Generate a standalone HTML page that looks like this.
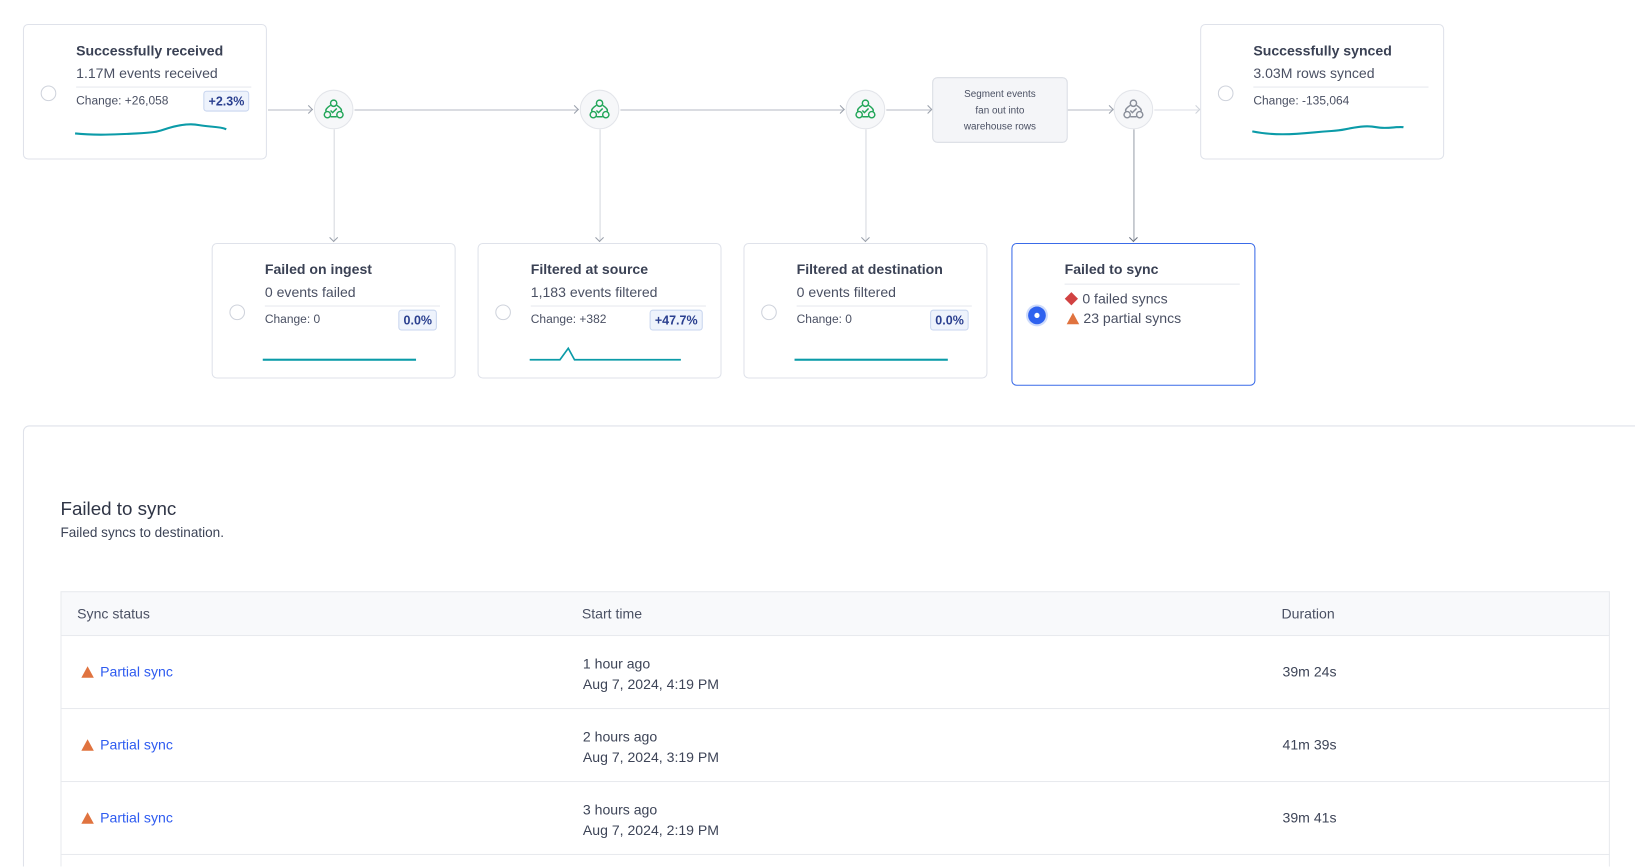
<!DOCTYPE html>
<html><head><meta charset="utf-8"><style>
*{box-sizing:border-box;margin:0;padding:0}
html,body{width:1635px;height:867px;overflow:hidden;background:#fff;font-family:"Liberation Sans",sans-serif;color:#3d4457}
#w{position:absolute;left:0;top:0;width:1568px;height:831px;overflow:hidden;transform:scale(1.0427);transform-origin:0 0}
.card{position:absolute;background:#fff;border:1px solid #dfe2ea;border-radius:5px;width:234px;height:130px}
.radio{position:absolute;width:15px;height:15px;border:1px solid #cfd3dc;border-radius:50%}
.t{position:absolute;font-size:13.5px;font-weight:bold;color:#3a4154;white-space:nowrap}
.s{position:absolute;font-size:13.5px;color:#4a5063;white-space:nowrap}
.div{position:absolute;height:1px;background:#e6e8ee}
.c{position:absolute;font-size:11.5px;color:#4a5063;white-space:nowrap}
.b{position:absolute;height:20px;border:1px solid #c9d6ef;background:#eef3fc;border-radius:3px;font-size:12px;font-weight:bold;color:#2a3f8f;padding:3px 4px;line-height:13px}
.node{position:absolute;width:38px;height:38px;border-radius:50%;background:#f6f7f9;border:1px solid #e3e5ea}
.hl{position:absolute;height:1px;background:#b8bcc6}
.vl{position:absolute;width:1px;background:#d6d9df}
.ah{position:absolute;width:6px;height:6px;border-top:1px solid #9aa0ab;border-right:1px solid #9aa0ab;transform:rotate(45deg)}
.av{position:absolute;width:6px;height:6px;border-bottom:1px solid #9aa0ab;border-right:1px solid #9aa0ab;transform:rotate(45deg)}
.row{position:absolute;left:58px;width:1486px;border-bottom:1px solid #e8eaee;height:70px}
.tri{display:inline-block;width:0;height:0;border-left:6px solid transparent;border-right:6px solid transparent;border-bottom:11px solid #e0733f;vertical-align:-1px;margin-right:6px}
.lk{position:absolute;left:19px;top:27px;font-size:13.5px;color:#2e5bf0}
.st{position:absolute;left:500px;top:17px;font-size:13.5px;line-height:20px;color:#3d4457}
.du{position:absolute;left:1171px;top:27px;font-size:13.5px;color:#3d4457}
</style></head><body><div id="w">
<svg width="1568" height="400" style="position:absolute;left:0;top:0">
<defs><g id="ic"><circle cx="0" cy="-6" r="3" fill="none" stroke-width="1.4"/><circle cx="-6" cy="5" r="3" fill="none" stroke-width="1.4"/><circle cx="6" cy="5" r="3" fill="none" stroke-width="1.4"/><path d="M-3,-4 Q-9,0 -7,2 M3,-4 Q9,0 7,2 M-3,7 L3,7 M-3,1 L-1,3 L3,-1" fill="none" stroke-width="1.4"/></g></defs>
</svg>
<div class="hl" style="left:257px;top:105px;width:42px"></div><div class="ah" style="left:293px;top:102px"></div>
<div class="hl" style="left:340px;top:105px;width:214px"></div><div class="ah" style="left:548px;top:102px"></div>
<div class="hl" style="left:595px;top:105px;width:214px"></div><div class="ah" style="left:803px;top:102px"></div>
<div class="hl" style="left:850px;top:105px;width:43px"></div><div class="ah" style="left:887px;top:102px"></div>
<div class="hl" style="left:1024px;top:105px;width:43px"></div><div class="ah" style="left:1061px;top:102px"></div>
<div class="hl" style="left:1107px;top:105px;width:43px;background:#dcdfe5"></div><div class="ah" style="left:1144px;top:102px;border-color:#cfd3da"></div>
<div class="vl" style="left:320px;top:124px;height:107px"></div><div class="av" style="left:317px;top:225px"></div>
<div class="vl" style="left:575px;top:124px;height:107px"></div><div class="av" style="left:572px;top:225px"></div>
<div class="vl" style="left:830px;top:124px;height:107px"></div><div class="av" style="left:827px;top:225px"></div>
<div class="vl" style="left:1087px;top:124px;height:107px;background:#9aa0ab"></div><div class="av" style="left:1084px;top:225px;border-color:#6b7280"></div>
<div class="node" style="left:301px;top:86px"></div><div class="node" style="left:556px;top:86px"></div><div class="node" style="left:811px;top:86px"></div><div class="node" style="left:1068px;top:86px"></div>
<svg width="1568" height="200" style="position:absolute;left:0;top:0">
<use href="#ic" x="320" y="105" stroke="#22a659"/><use href="#ic" x="575" y="105" stroke="#22a659"/><use href="#ic" x="830" y="105" stroke="#22a659"/><use href="#ic" x="1087" y="105" stroke="#8a8f9a"/>
</svg>
<div style="position:absolute;left:894px;top:74px;width:130px;height:63px;background:#f4f5f8;border:1px solid #dadde4;border-radius:5px;font-size:9.5px;line-height:15.5px;text-align:center;padding-top:8px;color:#4a5063">Segment events<br>fan out into<br>warehouse rows</div>

<div class="card" style="left:22px;top:23px"><div class="radio" style="left:16px;top:58px"></div><div class="t" style="left:50px;top:17px">Successfully received</div><div class="s" style="left:50px;top:39px">1.17M events received</div><div class="div" style="left:50px;top:59px;width:168px"></div><div class="c" style="left:50px;top:67px">Change: +26,058</div><div class="b" style="left:172px;top:63px">+2.3%</div>
<svg style="position:absolute;left:48px;top:94px" width="150" height="16"><path d="M1,10 C20,12 40,11 60,10 S80,8 90,5 S110,0 120,2 S140,3 146,6" fill="none" stroke="#0b9ba8" stroke-width="2"/></svg></div>

<div class="card" style="left:1151px;top:23px"><div class="radio" style="left:16px;top:58px"></div><div class="t" style="left:50px;top:17px">Successfully synced</div><div class="s" style="left:50px;top:39px">3.03M rows synced</div><div class="div" style="left:50px;top:59px;width:168px"></div><div class="c" style="left:50px;top:67px">Change: -135,064</div>
<svg style="position:absolute;left:48px;top:94px" width="150" height="16"><path d="M1,8 C20,12 40,11 60,9 S80,8 90,6 S110,2 120,4 S140,3 146,4" fill="none" stroke="#0b9ba8" stroke-width="2"/></svg></div>

<div class="card" style="left:203px;top:233px"><div class="radio" style="left:16px;top:58px"></div><div class="t" style="left:50px;top:17px">Failed on ingest</div><div class="s" style="left:50px;top:39px">0 events failed</div><div class="div" style="left:50px;top:59px;width:168px"></div><div class="c" style="left:50px;top:67px">Change: 0</div><div class="b" style="left:178px;top:63px">0.0%</div><div style="position:absolute;left:48px;top:110px;width:147px;height:2px;background:#0b9ba8"></div></div>

<div class="card" style="left:458px;top:233px"><div class="radio" style="left:16px;top:58px"></div><div class="t" style="left:50px;top:17px">Filtered at source</div><div class="s" style="left:50px;top:39px">1,183 events filtered</div><div class="div" style="left:50px;top:59px;width:168px"></div><div class="c" style="left:50px;top:67px">Change: +382</div><div class="b" style="left:164px;top:63px">+47.7%</div>
<svg style="position:absolute;left:48px;top:96px" width="150" height="18"><path d="M1,15 L30,15 L38,4 L44,15 L146,15" fill="none" stroke="#0b9ba8" stroke-width="1.6"/></svg></div>

<div class="card" style="left:713px;top:233px"><div class="radio" style="left:16px;top:58px"></div><div class="t" style="left:50px;top:17px">Filtered at destination</div><div class="s" style="left:50px;top:39px">0 events filtered</div><div class="div" style="left:50px;top:59px;width:168px"></div><div class="c" style="left:50px;top:67px">Change: 0</div><div class="b" style="left:178px;top:63px">0.0%</div><div style="position:absolute;left:48px;top:110px;width:147px;height:2px;background:#0b9ba8"></div></div>

<div class="card" style="left:970px;top:233px;height:137px;border-color:#3a6be8"><div style="position:absolute;left:13px;top:58px;width:21px;height:21px;border-radius:50%;background:#cfdcfb"><div style="position:absolute;left:2px;top:2px;width:17px;height:17px;border-radius:50%;background:#2f62ef"><div style="position:absolute;left:6px;top:6px;width:5px;height:5px;border-radius:50%;background:#fff"></div></div></div>
<div class="t" style="left:50px;top:17px">Failed to sync</div><div class="div" style="left:50px;top:38px;width:168px"></div>
<div class="s" style="left:52px;top:45px"><span style="display:inline-block;width:9px;height:9px;background:#d14242;transform:rotate(45deg);margin-right:6px;vertical-align:0"></span>0 failed syncs</div>
<div class="s" style="left:52px;top:64px"><span class="tri" style="margin-right:4px"></span>23 partial syncs</div></div>

<div style="position:absolute;left:22px;top:408px;width:1560px;height:440px;border:1px solid #dfe2ea;border-radius:6px"></div>
<div style="position:absolute;left:58px;top:478px;font-size:18px;color:#2f3546">Failed to sync</div>
<div style="position:absolute;left:58px;top:503px;font-size:13px;color:#3d4457">Failed syncs to destination.</div>
<div style="position:absolute;left:58px;top:567px;width:1486px;height:43px;background:#f8f9fb;border:1px solid #e8eaee;font-size:13.5px;color:#4a5063"><span style="position:absolute;left:15px;top:13px">Sync status</span><span style="position:absolute;left:499px;top:13px">Start time</span><span style="position:absolute;left:1170px;top:13px">Duration</span></div>
<div class="row" style="top:610px;border-left:1px solid #e8eaee;border-right:1px solid #e8eaee"><div class="lk"><span class="tri"></span>Partial sync</div><div class="st">1 hour ago<br>Aug 7, 2024, 4:19 PM</div><div class="du">39m 24s</div></div>
<div class="row" style="top:680px;border-left:1px solid #e8eaee;border-right:1px solid #e8eaee"><div class="lk"><span class="tri"></span>Partial sync</div><div class="st">2 hours ago<br>Aug 7, 2024, 3:19 PM</div><div class="du">41m 39s</div></div>
<div class="row" style="top:750px;border-left:1px solid #e8eaee;border-right:1px solid #e8eaee"><div class="lk"><span class="tri"></span>Partial sync</div><div class="st">3 hours ago<br>Aug 7, 2024, 2:19 PM</div><div class="du">39m 41s</div></div>
<div class="row" style="top:820px;height:11px;border-left:1px solid #e8eaee;border-right:1px solid #e8eaee;border-bottom:none"></div>
</div></body></html>
